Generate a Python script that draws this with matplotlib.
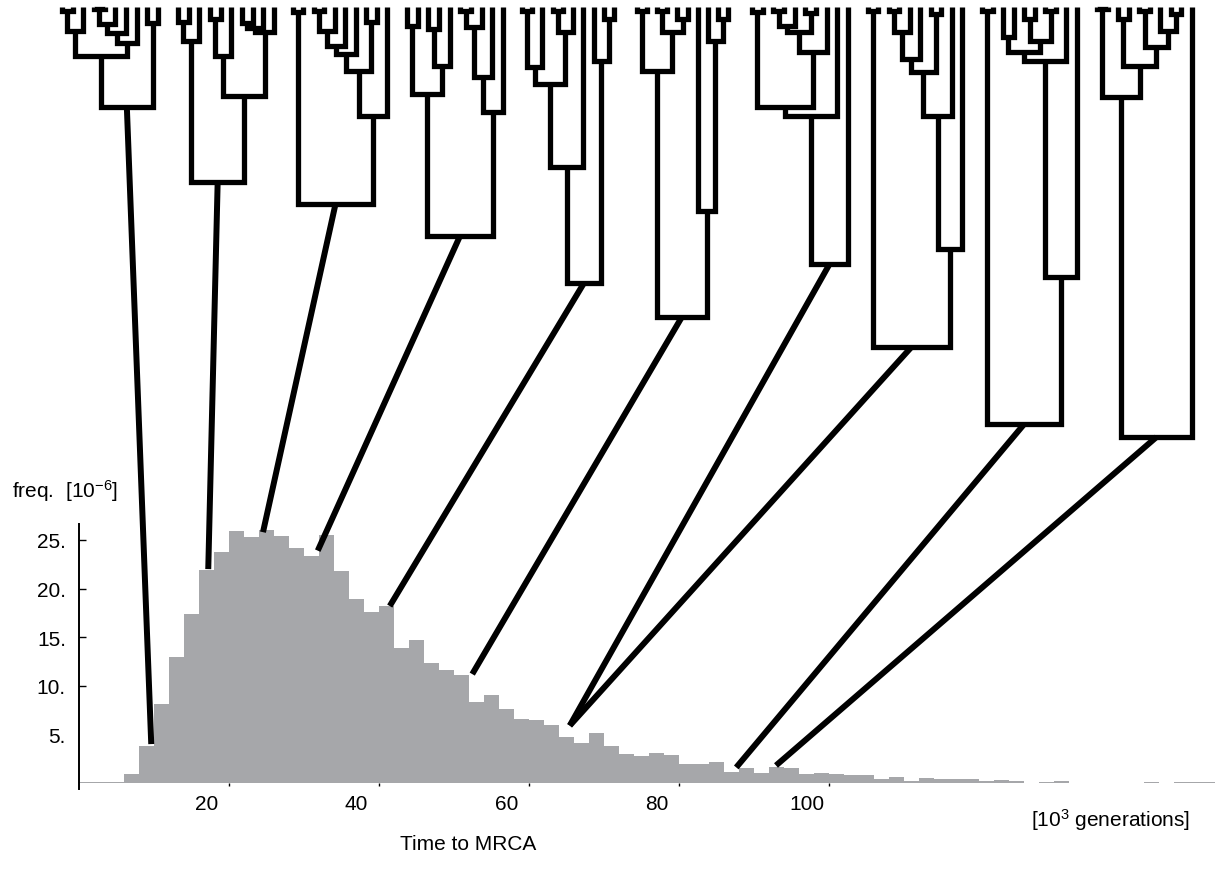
import numpy as np
import matplotlib.pyplot as plt
from matplotlib.patches import ConnectionPatch
from matplotlib.transforms import ScaledTranslation

plt.rcParams['font.family'] = ['Liberation Sans', 'DejaVu Sans']
plt.rcParams['mathtext.fontset'] = 'custom'
plt.rcParams['mathtext.rm'] = 'Liberation Sans'
plt.rcParams['mathtext.it'] = 'Liberation Sans:italic'

# histogram of time to MRCA (bins of 2 x 10^3 generations, freq in 10^-6)
bin_width = 2
freq = [0.05, 0.05, 0.1, 0.93, 3.84, 8.13, 12.96, 17.39, 21.95, 23.8,
        25.93, 25.3, 26.03, 25.41, 24.18, 23.39, 25.51, 21.84, 18.93, 17.59,
        18.21, 13.89, 14.71, 12.35, 11.63, 11.13, 8.37, 9.05, 7.61, 6.58,
        6.45, 6.0, 4.73, 4.15, 5.14, 3.81, 2.98, 2.78, 3.09, 2.88,
        1.95, 1.95, 2.16, 1.17, 1.54, 1.03, 1.65, 1.54, 0.93, 1.03,
        0.93, 0.82, 0.86, 0.45, 0.58, 0.24, 0.55, 0.38, 0.41, 0.41,
        0.17, 0.34, 0.2, 0.0, 0.14, 0.24, 0.03, 0.03, 0.03, 0.03,
        0.03, 0.14, 0.0, 0.07, 0.07, 0.07]
bin_left = np.arange(len(freq)) * bin_width

xticks = [20, 40, 60, 80, 100]
yticks = [5, 10, 15, 20, 25]

# example genealogies: [depth, child, child], leaf = 0 (depth measured from the top)
trees = [
    [108, [57, [32, [12, 0, 0], 0], [44, [34, [25, [10, 0, 0], 0], 0], 0]], [24, 0, 0]],
    [183, [42, [23, 0, 0], 0], [97, [57, [20, 0, 0], 0], [33, [29, [24, 0, 0], 0], 0]]],
    [205, [13, 0, 0], [117, [72, [55, [47, [32, [12, 0, 0], 0], 0], 0], [23, 0, 0]], 0]],
    [237, [95, [27, 0, 0], [67, [30, 0, 0], 0]], [113, [78, [28, [12, 0, 0], 0], 0], 0]],
    [284, [168, [85, [68, [12, 0, 0], 0], [33, [12, 0, 0], 0]], 0], [62, 0, [20, 0, 0]]],
    [318, [72, [12, 0, 0], [33, [12, 0, 0], [20, 0, 0]]], [212, 0, [42, 0, [20, 0, 0]]]],
    [265, [117, [108, [13, 0, 0], [53, [33, [27, [12, 0, 0], 0], [14, 0, 0]], 0]], 0], 0],
    [348, [12, 0, 0], [250, [117, [73, [60, [33, [12, 0, 0], 0], 0], [15, 0, 0]], 0], 0]],
    [425, [12, 0, 0], [278, [62, [53, [38, 0, 0], [42, [20, 0, 0], [12, 0, 0]]], 0], 0]],
    [438, [98, [10, 0, 0], [67, [20, 0, 0], [48, [12, 0, 0], [32, 0, [15, 0, 0]]]]], 0],
]
n_leaves = 10
leaf_depth = 8
tree_left = [62, 178, 293, 407, 522, 637, 752, 868, 982, 1097]
tree_right = [158, 274, 387, 503, 614, 728, 848, 962, 1077, 1192]

# where each genealogy sits in the distribution
link_time = [9.7, 17.3, 24.6, 31.9, 41.5, 52.5, 65.5, 65.5, 87.7, 93.0]
link_freq = [4.0, 22.0, 25.8, 23.9, 18.2, 11.2, 5.9, 5.9, 1.6, 1.8]

W, H = 1215, 878
fs = 15
fig = plt.figure(figsize=(W / 100, H / 100), dpi=100)

# trees drawn in an overlay axes, depth runs downwards
axt = fig.add_axes([0, 0, 1, 1])
axt.set_xlim(0, W)
axt.set_ylim(H, 0)
axt.axis('off')


def draw_tree(ax, node, xs, lw=3.8):
    leaves = iter(xs)

    def walk(n):
        if n == 0:
            return next(leaves), leaf_depth
        kids = [walk(c) for c in n[1:]]
        x1, d1 = kids[0]
        x2, d2 = kids[-1]
        ax.plot([x1, x1, x2, x2], [d1, n[0], n[0], d2], color='black', lw=lw,
                solid_joinstyle='miter', solid_capstyle='butt')
        return (x1 + x2) / 2, n[0]

    return walk(node)


roots = []
for tree, left, right in zip(trees, tree_left, tree_right):
    roots.append(draw_tree(axt, tree, np.linspace(left, right, n_leaves)))

# histogram
y0_px, ytop_px = 789.8, 525.4
left_px = 78.5
ax = fig.add_axes([left_px / W, (H - y0_px) / H, (W - left_px) / W, (y0_px - ytop_px) / H])
ax.patch.set_visible(False)
ax.bar(bin_left, freq, width=bin_width, align='edge', color='#a6a7aa', linewidth=0)
ax.set_xlim(0, (W - left_px) / 7.5)
ax.set_ylim(-0.6, 26.6)

for s in ['top', 'right']:
    ax.spines[s].set_visible(False)
ax.spines['left'].set_linewidth(1.4)
ax.spines['bottom'].set_position(('data', 0))
ax.spines['bottom'].set_visible(False)

ax.set_yticks(yticks)
ax.set_yticklabels([f'{v}.' for v in yticks])
ax.tick_params(axis='y', direction='in', length=5, width=1, pad=9, labelsize=fs)
ax.yaxis.get_major_ticks()[0].tick1line.set_visible(False)

ax.set_xticks(xticks)
ax.set_xticklabels([str(v) for v in xticks])
ax.tick_params(axis='x', direction='out', length=2, width=1, pad=6, labelsize=fs)
shift = ScaledTranslation(-0.22, 0, fig.dpi_scale_trans)
for lab in ax.get_xticklabels():
    lab.set_transform(lab.get_transform() + shift)

# links from tree roots to the histogram
for (rx, rd), t, f in zip(roots, link_time, link_freq):
    con = ConnectionPatch(xyA=(rx, rd), coordsA=axt.transData,
                          xyB=(t, f), coordsB=ax.transData,
                          color='black', lw=4.3, capstyle='butt')
    fig.add_artist(con)

fig.text(12 / W, 1 - 491 / H, 'freq.  [10$^{-6}$]', fontsize=fs, va='center', ha='left')
fig.text(1190 / W, 1 - 820 / H, '[10$^{3}$ generations]', fontsize=fs, va='center', ha='right')
fig.text(468 / W, 1 - 845 / H, 'Time to MRCA', fontsize=fs, va='center', ha='center')

fig.savefig('out.png', dpi=100)
